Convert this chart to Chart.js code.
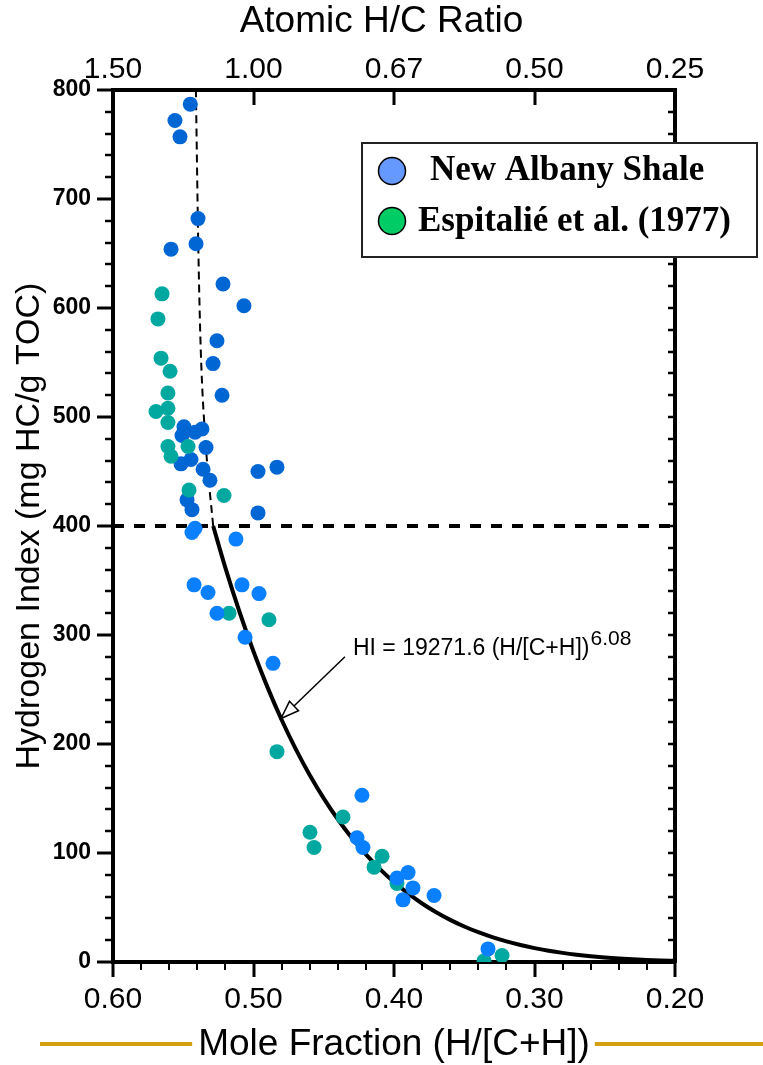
<!DOCTYPE html>
<html>
<head>
<meta charset="utf-8">
<title>Hydrogen Index vs Mole Fraction</title>
<script src="https://cdn.jsdelivr.net/npm/chart.js@4/dist/chart.umd.min.js"></script>
<style>
  html, body { margin: 0; padding: 0; background: #fff; }
  #wrap { width: 763px; height: 1065px; }
</style>
</head>
<body>
<div id="wrap"><canvas id="hiChart" width="763" height="1065"></canvas></div>
<script>
// New Albany Shale samples: mole fraction H/[C+H] and hydrogen index (mg HC/g TOC)
const nasX = [0.545, 0.5559, 0.5523, 0.5395, 0.5409, 0.5587, 0.5217, 0.5068, 0.526, 0.5288,
  0.5224, 0.5495, 0.5509, 0.5367, 0.5416, 0.5338, 0.5516, 0.5445, 0.5359, 0.531,
  0.5473, 0.5438, 0.4968, 0.4833, 0.4968,
  0.5438, 0.5416, 0.5125, 0.5423, 0.5324, 0.5082, 0.4961, 0.526, 0.506, 0.4861,
  0.4228, 0.4263, 0.4221, 0.3979, 0.39, 0.3865, 0.3936, 0.3715, 0.3331];
const nasHI = [787, 772, 757, 682, 659, 654, 622, 602, 570, 549,
  520, 491, 483, 489, 486, 472, 457, 461, 452, 442,
  424, 415, 450, 454, 412,
  394, 398, 388, 346, 339, 346, 338, 320, 298, 274,
  153, 114, 105, 77, 82, 68, 57, 61, 12];

// Espitalié et al. (1977)
const espX = [0.5651, 0.568, 0.5658, 0.5594, 0.5609, 0.5694, 0.5609, 0.5609, 0.5609, 0.5587,
  0.5466, 0.5459, 0.521, 0.5174, 0.489, 0.4833, 0.4363, 0.4598, 0.4569, 0.4085,
  0.4142, 0.3979, 0.3359, 0.3231];
const espHI = [613, 590, 554, 542, 522, 505, 508, 495, 473, 464,
  473, 433, 428, 320, 314, 193, 133, 119, 105, 97,
  87, 72, 1, 6];

// axis ticks
const moleTicks = [0.60, 0.50, 0.40, 0.30, 0.20];
const atomicLabels = ['1.50', '1.00', '0.67', '0.50', '0.25'];
const hiTicks = [0, 100, 200, 300, 400, 500, 600, 700, 800];

// power-law fit HI = A * (H/[C+H])^B, drawn below the 400 cutoff
const fitA = 19271.6;
const fitB = 6.08;
const fitX = [0.5287, 0.52, 0.51, 0.50, 0.49, 0.48, 0.47, 0.46, 0.45, 0.44, 0.43, 0.42,
  0.41, 0.40, 0.39, 0.38, 0.37, 0.36, 0.35, 0.34, 0.33, 0.32, 0.31, 0.30, 0.29,
  0.28, 0.27, 0.26, 0.25, 0.24, 0.23, 0.22, 0.21, 0.20];

// dashed trend above the cutoff
const trendX = [0.5287, 0.534, 0.5375, 0.5392, 0.541];
const trendHI = [400, 475, 560, 650, 800];

const cutoffHI = 400;
const arrowAt = 0.4804;

const SANS = "'Liberation Sans', Arial, sans-serif";
const SERIF = "'Liberation Serif', 'Times New Roman', serif";

const nasPts = nasX.map((x, i) => ({ x: x, y: nasHI[i] }));
const nasUpper = nasPts.filter(p => p.y >= cutoffHI);
const nasLower = nasPts.filter(p => p.y < cutoffHI);
const espPts = espX.map((x, i) => ({ x: x, y: espHI[i] }));
const fitPts = fitX.map(x => ({ x: x, y: fitA * Math.pow(x, fitB) }));
const trendPts = trendX.map((x, i) => ({ x: x, y: trendHI[i] }));

function tick(ctx, x1, y1, x2, y2, w) {
  ctx.lineWidth = w;
  ctx.beginPath();
  ctx.moveTo(x1, y1);
  ctx.lineTo(x2, y2);
  ctx.stroke();
}

const extras = {
  id: 'extras',
  afterDraw(chart) {
    const ctx = chart.ctx;
    const a = chart.chartArea;
    const x = chart.scales.x;
    const y = chart.scales.y;
    ctx.save();
    ctx.strokeStyle = '#000';
    ctx.lineCap = 'butt';

    // left: major every 100, minor every 20, outside
    for (let i = 0; i <= 40; i++) {
      const py = Math.round(y.getPixelForValue(i * 20));
      const major = i % 5 === 0;
      tick(ctx, a.left - (major ? 16 : 8), py, a.left, py, major ? 3 : 2.5);
    }
    // right: every 20, inside
    for (let i = 1; i < 40; i++) {
      const py = Math.round(y.getPixelForValue(i * 20));
      tick(ctx, a.right - 7, py, a.right, py, 2.5);
    }
    // bottom: major every 0.1, minor every 0.02, outside
    for (let i = 0; i <= 20; i++) {
      const px = Math.round(x.getPixelForValue(0.2 + i * 0.02));
      const major = i % 5 === 0;
      tick(ctx, px, a.bottom, px, a.bottom + (major ? 15 : 8), major ? 3 : 2);
    }
    // top: major only, inside
    moleTicks.slice(1, -1).forEach(v => {
      const px = Math.round(x.getPixelForValue(v));
      tick(ctx, px, a.top, px, a.top + 15, 3);
    });

    // equation label with arrow onto the fit curve
    const tipX = x.getPixelForValue(arrowAt);
    const tipY = y.getPixelForValue(fitA * Math.pow(arrowAt, fitB));
    const tailX = x.getPixelForValue(0.4349);
    const tailY = y.getPixelForValue(280);
    const ang = Math.atan2(tipY - tailY, tipX - tailX);
    const hl = 18, hw = 6.5;
    const bx = tipX - hl * Math.cos(ang), by = tipY - hl * Math.sin(ang);
    ctx.lineWidth = 1.5;
    ctx.beginPath();
    ctx.moveTo(tailX, tailY);
    ctx.lineTo(bx, by);
    ctx.stroke();
    ctx.beginPath();
    ctx.moveTo(tipX, tipY);
    ctx.lineTo(bx + hw * Math.sin(ang), by - hw * Math.cos(ang));
    ctx.lineTo(bx - hw * Math.sin(ang), by + hw * Math.cos(ang));
    ctx.closePath();
    ctx.fillStyle = '#fff';
    ctx.fill();
    ctx.stroke();

    const lx = x.getPixelForValue(0.4292);
    const ly = y.getPixelForValue(282);
    ctx.fillStyle = '#000';
    ctx.textBaseline = 'alphabetic';
    ctx.textAlign = 'left';
    ctx.font = '23px ' + SANS;
    const eq = 'HI = 19271.6 (H/[C+H])';
    ctx.fillText(eq, lx, ly);
    const ew = ctx.measureText(eq).width;
    ctx.font = '21px ' + SANS;
    ctx.fillText('6.08', lx + ew + 1, ly - 10);

    // legend box
    ctx.fillStyle = '#fff';
    ctx.fillRect(362, 143, 395, 114);
    ctx.strokeStyle = '#222';
    ctx.lineWidth = 2;
    ctx.strokeRect(362, 143, 395, 114);
    const items = [
      { label: 'New Albany Shale', color: '#6699FF', cy: 171, tx: 430, ty: 180 },
      { label: 'Espitalié et al. (1977)', color: '#00CC66', cy: 221, tx: 418, ty: 231 }
    ];
    items.forEach(it => {
      ctx.beginPath();
      ctx.arc(392, it.cy, 13.5, 0, Math.PI * 2);
      ctx.fillStyle = it.color;
      ctx.fill();
      ctx.strokeStyle = '#000';
      ctx.lineWidth = 1.5;
      ctx.stroke();
      ctx.fillStyle = '#000';
      ctx.font = 'bold 35px ' + SERIF;
      ctx.fillText(it.label, it.tx, it.ty);
    });

    // gold rules either side of the bottom axis title
    ctx.font = '37px ' + SANS;
    const tw = ctx.measureText(x.options.title.text).width;
    const cx = (a.left + a.right) / 2;
    ctx.strokeStyle = '#D4A010';
    ctx.lineWidth = 4;
    tick(ctx, 40, 1044, cx - tw / 2 - 6, 1044, 4);
    tick(ctx, cx + tw / 2 + 5, 1044, 763, 1044, 4);
    ctx.restore();
  }
};

const ctx = document.getElementById('hiChart').getContext('2d');
const hiChart = new Chart(ctx, {
  type: 'scatter',
  data: {
    datasets: [
      { label: 'New Albany Shale', data: nasLower, backgroundColor: '#0A80FF',
        pointRadius: 7.5, pointBorderWidth: 0, order: 1 },
      { label: 'Espitalié et al. (1977)', data: espPts, backgroundColor: '#00A89F',
        pointRadius: 7.5, pointBorderWidth: 0, order: 2 },
      { label: 'New Albany Shale (HI > 400)', data: nasUpper, backgroundColor: '#0066D4',
        pointRadius: 7.5, pointBorderWidth: 0, order: 3 },
      { label: 'fit', data: fitPts, showLine: true, borderColor: '#000', borderWidth: 4,
        pointRadius: 0, cubicInterpolationMode: 'monotone', order: 4 },
      { label: 'trend', data: trendPts, showLine: true, borderColor: '#000', borderWidth: 2,
        borderDash: [8, 5], pointRadius: 0, cubicInterpolationMode: 'monotone', order: 5 },
      { label: 'cutoff', data: [{ x: 0.6, y: cutoffHI }, { x: 0.2, y: cutoffHI }], showLine: true,
        borderColor: '#000', borderWidth: 4, borderDash: [11, 10], pointRadius: 0, order: 6 }
    ]
  },
  options: {
    responsive: false,
    animation: false,
    layout: { padding: 0 },
    plugins: {
      legend: { display: false },
      tooltip: { enabled: false },
      title: {
        display: true,
        text: 'Atomic H/C Ratio',
        color: '#000',
        font: { family: SANS, size: 37, weight: 'normal', lineHeight: 1 },
        padding: { top: 3, bottom: 0 }
      }
    },
    scales: {
      x: {
        type: 'linear', position: 'bottom', min: 0.2, max: 0.6, reverse: true,
        afterBuildTicks: s => { s.ticks = moleTicks.map(v => ({ value: v })); },
        afterFit: s => { s.height = 103; },
        grid: { drawOnChartArea: false, drawTicks: false },
        border: { width: 4, color: '#000' },
        ticks: { color: '#000', font: { family: SANS, size: 30, lineHeight: 1.2 }, padding: 20,
          autoSkip: false, maxRotation: 0, callback: v => Number(v).toFixed(2) },
        title: { display: true, text: 'Mole Fraction (H/[C+H])', color: '#000',
          font: { family: SANS, size: 37, lineHeight: 1 }, padding: { top: 0, bottom: 2 } }
      },
      x2: {
        type: 'linear', position: 'top', min: 0.2, max: 0.6, reverse: true,
        afterBuildTicks: s => { s.ticks = moleTicks.map(v => ({ value: v })); },
        afterFit: s => { s.height = 50; },
        grid: { drawOnChartArea: false, drawTicks: false },
        border: { width: 4, color: '#000' },
        ticks: { color: '#000', font: { family: SANS, size: 30, lineHeight: 1.2 }, padding: 2,
          autoSkip: false, maxRotation: 0,
          callback: (v, i) => atomicLabels[i] }
      },
      y: {
        type: 'linear', position: 'left', min: 0, max: 800,
        afterBuildTicks: s => { s.ticks = hiTicks.map(v => ({ value: v })); },
        afterFit: s => { s.width = 113; },
        grid: { drawOnChartArea: false, drawTicks: false },
        border: { width: 4, color: '#000' },
        ticks: { color: '#000', font: { family: SANS, size: 23, weight: 'bold' }, padding: 22 },
        title: { display: true, text: 'Hydrogen Index (mg HC/g TOC)', color: '#000',
          font: { family: SANS, size: 34, lineHeight: 1 }, padding: { top: 13, bottom: 0 } }
      },
      y2: {
        type: 'linear', position: 'right', min: 0, max: 800,
        afterFit: s => { s.width = 88; },
        grid: { drawOnChartArea: false, drawTicks: false },
        border: { width: 4, color: '#000' },
        ticks: { display: false }
      }
    }
  },
  plugins: [extras]
});
</script>
</body>
</html>
